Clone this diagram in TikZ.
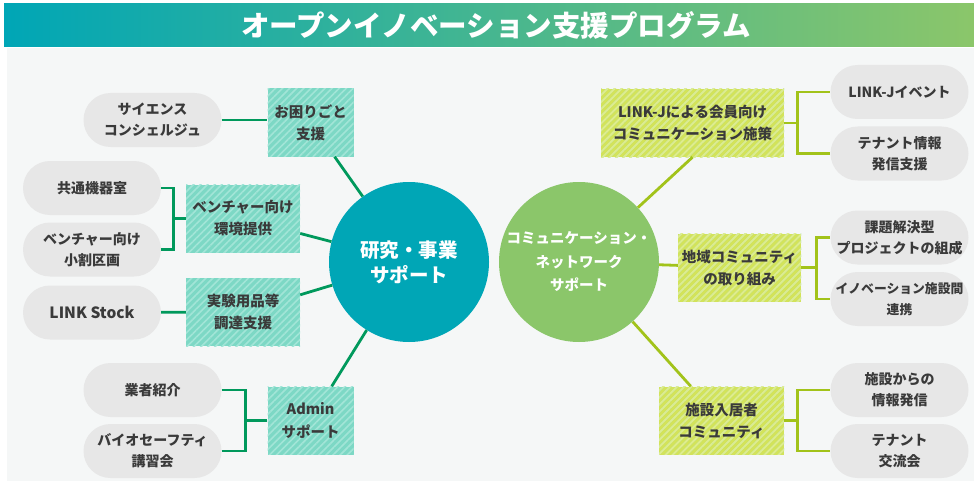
\documentclass[tikz,border=0pt]{standalone}
\usepackage{fontspec}
\setmainfont{Noto Sans CJK JP}
\usetikzlibrary{patterns.meta}
\definecolor{tealc}{HTML}{00A6B6}
\definecolor{greenc}{HTML}{8BC66A}
\definecolor{bgc}{HTML}{F5F7F7}
\definecolor{pillc}{HTML}{E7E7E7}
\definecolor{textc}{HTML}{3A3A3A}
\definecolor{boxteal}{HTML}{7DD8C5}
\definecolor{stripeteal}{HTML}{A2E5D7}
\definecolor{boxlime}{HTML}{D3E35A}
\definecolor{stripelime}{HTML}{E1EC8C}
\definecolor{lgreen}{HTML}{00995C}
\definecolor{rgreen}{HTML}{A2C31A}

\begin{document}
\begin{tikzpicture}[x=1pt, y=-1pt,
	pill/.style={fill=pillc, rounded corners=27pt, minimum width=138pt, minimum height=54pt, inner sep=2pt, align=center, text=textc, font=\bfseries\fontsize{14}{21}\selectfont},
	tbox/.style={fill=boxteal, postaction={pattern={Lines[angle=45, distance=5pt, line width=1.6pt]}, pattern color=stripeteal}, minimum height=68pt, inner sep=2pt, align=center, text=textc, font=\bfseries\fontsize{14.5}{22}\selectfont},
	lbox/.style={tbox, fill=boxlime, postaction={pattern={Lines[angle=45, distance=5pt, line width=1.6pt]}, pattern color=stripelime}},
	hub/.style={circle, minimum size=160pt, inner sep=0pt, align=center, text=white},
	lline/.style={draw=lgreen, line width=2.8pt},
	rline/.style={draw=rgreen, line width=2.8pt},
	]
	\useasboundingbox (0,0) rectangle (974,484);
	\fill[white] (0,0) rectangle (974,484);
	\fill[left color=tealc, right color=greenc] (4,4) rectangle (974,47);
	\fill[bgc] (7,48) rectangle (974,481);
	\node[text=white, font=\bfseries\fontsize{28.5}{30}\selectfont] (title) at (496,25) {オープンイノベーション支援プログラム};

	\node[hub, fill=tealc, font=\bfseries\fontsize{19.5}{25}\selectfont] (kenkyu) at (409,262) {研究・事業\\サポート};
	\node[hub, fill=greenc, font=\bfseries\fontsize{14.5}{23.5}\selectfont] (komyu) at (579,262) {コミュニケーション・\\ネットワーク\\サポート};

	\node[pill] (science) at (152.5,120) {サイエンス\\コンシェルジュ};
	\node[tbox, minimum width=86pt] (okomari) at (310.5,122.5) {お困りごと\\支援};
	\node[pill] (kyotsu) at (92,188) {共通機器室};
	\node[pill] (kowari) at (92,249.5) {ベンチャー向け\\小割区画};
	\node[tbox, minimum width=114pt] (kankyo) at (243,218.5) {ベンチャー向け\\環境提供};
	\node[pill, font=\bfseries\fontsize{15.5}{21}\selectfont] (stock) at (92,312.5) {LINK Stock};
	\node[tbox, minimum width=114pt] (chotatsu) at (243,312) {実験用品等\\調達支援};
	\node[pill] (gyosha) at (152.5,390) {業者紹介};
	\node[pill] (bio) at (152.5,451) {バイオセーフティ\\講習会};
	\node[tbox, minimum width=86pt] (admin) at (310.5,420.5) {Admin\\サポート};

	\node[lbox, minimum width=183pt] (linkj) at (692.5,123) {LINK-Jによる会員向け\\コミュニケーション施策};
	\node[pill] (event) at (899.5,92) {LINK-Jイベント};
	\node[pill] (tenant) at (899.5,153.5) {テナント情報\\発信支援};
	\node[lbox, minimum width=123pt] (chiiki) at (739.5,267.5) {地域コミュニティ\\の取り組み};
	\node[pill] (kadai) at (899.5,237.5) {課題解決型\\プロジェクトの組成};
	\node[pill, font=\bfseries\fontsize{12.8}{21}\selectfont] (shisetsukan) at (899.5,299) {イノベーション施設間\\連携};
	\node[lbox, minimum width=125pt] (nyukyo) at (721.5,420.5) {施設入居者\\コミュニティ};
	\node[pill] (hasshin) at (899.5,390) {施設からの\\情報発信};
	\node[pill] (koryu) at (899.5,451) {テナント\\交流会};

	\draw[lline] (science.east) -- (science.east -| okomari.west);
	\draw[lline] (kyotsu.east) -- ++(12,0) |- (kankyo.west);
	\draw[lline] (kowari.east) -- ++(12,0) |- (kankyo.west);
	\draw[lline] (stock) -- (chotatsu);
	\draw[lline] (gyosha.east) -- ++(24,0) |- (admin.west);
	\draw[lline] (bio.east) -- ++(24,0) |- (admin.west);
	\draw[lline] (kenkyu) -- (okomari);
	\draw[lline] (kenkyu) -- (kankyo);
	\draw[lline] (kenkyu) -- (chotatsu);
	\draw[lline] (kenkyu) -- (admin);

	\draw[rline] (linkj.east) -- ++(13,0) |- (event.west);
	\draw[rline] (linkj.east) -- ++(13,0) |- (tenant.west);
	\draw[rline] (chiiki.east) -- ++(15,0) |- (kadai.west);
	\draw[rline] (chiiki.east) -- ++(15,0) |- (shisetsukan.west);
	\draw[rline] (nyukyo.east) -- ++(13,0) |- (hasshin.west);
	\draw[rline] (nyukyo.east) -- ++(13,0) |- (koryu.west);
	\draw[rline] (komyu) -- (linkj.south);
	\draw[rline] (komyu) -- (chiiki);
	\draw[rline] (komyu) -- (nyukyo);
\end{tikzpicture}
\end{document}
